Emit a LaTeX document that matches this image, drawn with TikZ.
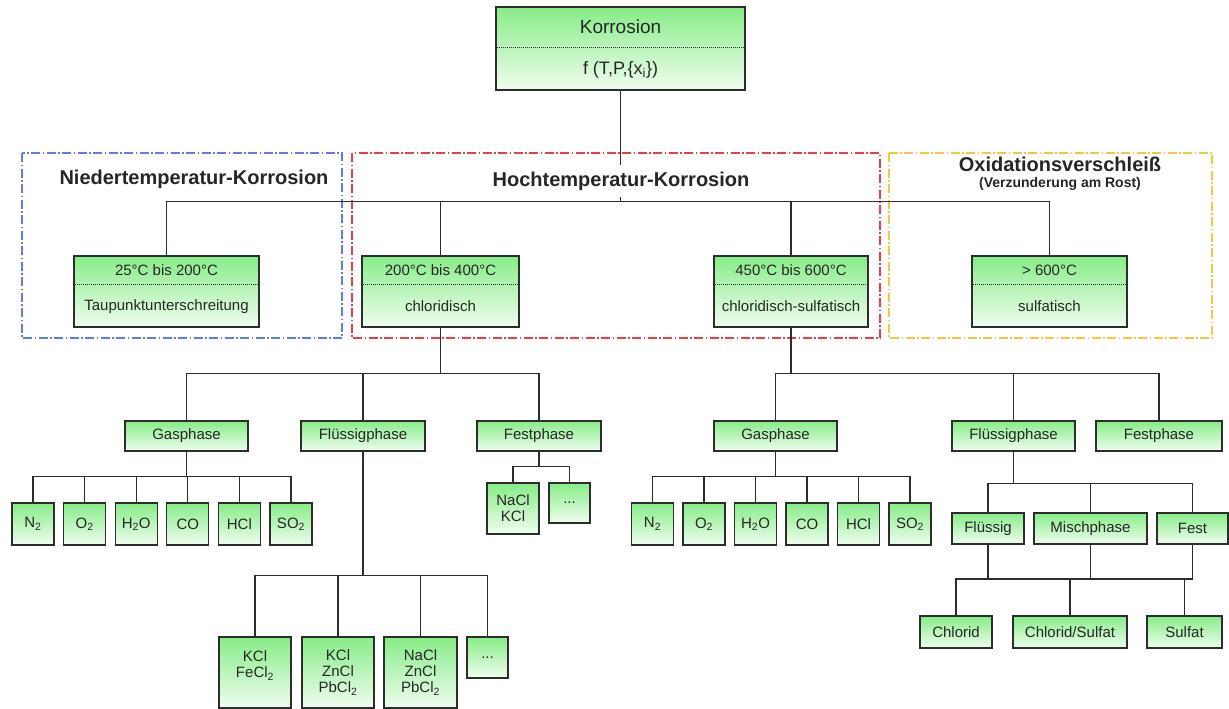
\documentclass[tikz,border=0pt]{standalone}
\usepackage{fontspec}
\setmainfont{Liberation Sans}
\usetikzlibrary{positioning}

\definecolor{boxtop}{RGB}{135,236,135}
\definecolor{boxbottom}{RGB}{240,253,240}
\definecolor{framenieder}{RGB}{95,125,225}
\definecolor{framehoch}{RGB}{232,62,72}
\definecolor{frameoxid}{RGB}{245,200,60}
\definecolor{linegray}{RGB}{45,45,45}

\begin{document}
\begin{tikzpicture}[x=1pt, y=-1pt, font=\fontsize{15}{16}\selectfont]

    \tikzset{%
    every box/.style={
        draw=linegray,
        line width=1.2pt,
        top color=boxtop,
        bottom color=boxbottom,
        inner sep=0pt,
        align=center,
        text=black!85
        },
    divider/.style={linegray, line width=1pt, densely dotted},
    conn/.style={linegray, line width=1.2pt},
    frame/.style={line width=1.4pt, dash pattern=on 9pt off 2.5pt on 1.5pt off 2.5pt},
    head/.style={font=\bfseries\fontsize{20}{22}\selectfont, text=black!85, inner sep=1pt},
    subhead/.style={font=\bfseries\fontsize{14}{16}\selectfont, text=black!85, inner sep=1pt},
    }

    \useasboundingbox (0,0) rectangle (1229,709);

    % Temperature range frames
    \draw [frame, draw=framenieder] (22,153) rectangle (342,338);
    \draw [frame, draw=framehoch] (352,153) rectangle (880,338);
    \draw [frame, draw=frameoxid] (889,153) rectangle (1212,338);

    % Root box
    \node [every box, minimum width=249, minimum height=83] (root) at (620.5,48.5) {};
    \draw [divider] ([yshift=-41pt]root.north west) -- ([yshift=-41pt]root.north east);
    \node [font=\fontsize{19}{21}\selectfont, text=black!85] (root-a) at ([yshift=-20.5pt]root.north) {Korrosion};
    \node [font=\fontsize{18}{20}\selectfont, text=black!85] (root-b) at ([yshift=21pt]root.south) {f (T,P,\{x\textsubscript{i}\})};

    % Temperature range boxes
    \foreach \n/\x/\w/\a/\b in {nt/166.5/185/25°C bis 200°C/Taupunktunterschreitung,
        ht1/440.5/157/200°C bis 400°C/chloridisch,
        ht2/791/154/450°C bis 600°C/chloridisch-sulfatisch,
        ox/1049.5/155/> 600°C/sulfatisch}
    {
    \node [every box, minimum width=\w, minimum height=71] (\n) at (\x,291.5) {};
    \draw [divider] ([yshift=-29pt]\n.north west) -- ([yshift=-29pt]\n.north east);
    \node [text=black!85] (\n-a) at ([yshift=-14.5pt]\n.north) {\a};
    \node [text=black!85] (\n-b) at ([yshift=21pt]\n.south) {\b};
    }

    % Phase boxes
    \node [every box, minimum width=123, minimum height=30] (gasL) at (186.5,436) {Gasphase};
    \node [every box, minimum width=124, minimum height=30] (fluL) at (363,436) {Flüssigphase};
    \node [every box, minimum width=124, minimum height=30] (festL) at (539,436) {Festphase};
    \node [every box, minimum width=123, minimum height=30] (gasR) at (775.5,436) {Gasphase};
    \node [every box, minimum width=123, minimum height=30] (fluR) at (1013.5,436) {Flüssigphase};
    \node [every box, minimum width=126, minimum height=30] (festR) at (1159,436) {Festphase};

    % Gas components
    \foreach \g [count=\i] in {N\textsubscript{2},O\textsubscript{2},H\textsubscript{2}O,CO,HCl,SO\textsubscript{2}}
    {
    \node [every box, minimum width=42, minimum height=42] (gasL-\i) at ({33+51.6*(\i-1)},524) {\g};
    \node [every box, minimum width=42, minimum height=42] (gasR-\i) at ({652.5+51.5*(\i-1)},524) {\g};
    }

    % Solid phase salts
    \node [every box, minimum width=52, minimum height=51] (salt-1) at (513,508.5) {NaCl\\KCl};
    \node [every box, minimum width=41, minimum height=40] (salt-2) at (569.5,503) {...};

    % Liquid phase salts
    \node [every box, minimum width=72, minimum height=71] (liq-1) at (255,672.5) {KCl\\FeCl\textsubscript{2}\\\mbox{}};
    \node [every box, minimum width=72, minimum height=71] (liq-2) at (338,672.5) {KCl\\ZnCl\\PbCl\textsubscript{2}};
    \node [every box, minimum width=73, minimum height=71] (liq-3) at (420.5,672.5) {NaCl\\ZnCl\\PbCl\textsubscript{2}};
    \node [every box, minimum width=41, minimum height=41] (liq-4) at (487.5,657.5) {...};

    % Deposit states
    \node [every box, minimum width=72, minimum height=31] (dep-1) at (988,528.5) {Flüssig};
    \node [every box, minimum width=113, minimum height=31] (dep-2) at (1090.5,528.5) {Mischphase};
    \node [every box, minimum width=71, minimum height=31] (dep-3) at (1192.5,528.5) {Fest};

    % Deposit types
    \node [every box, minimum width=72, minimum height=32] (typ-1) at (956,632) {Chlorid};
    \node [every box, minimum width=114, minimum height=32] (typ-2) at (1070,632) {Chlorid/Sulfat};
    \node [every box, minimum width=75, minimum height=32] (typ-3) at (1184.5,632) {Sulfat};
    \coordinate (mixbar) at (0,579);

    % Connectors
    \foreach \c in {nt,ht1,ht2,ox}
    \draw [conn] (root.south) -- ++(0,111) -| (\c.north);

    \foreach \c in {gasL,fluL,festL}
    \draw [conn] (ht1.south) -- ++(0,46) -| (\c.north);
    \foreach \c in {gasR,fluR,festR}
    \draw [conn] (ht2.south) -- ++(0,46) -| (\c.north);

    \foreach \i in {1,...,6}
    {
    \draw [conn] (gasL.south) -- ++(0,25) -| (gasL-\i.north);
    \draw [conn] (gasR.south) -- ++(0,25) -| (gasR-\i.north);
    }

    \foreach \i in {1,2}
    \draw [conn] (festL.south) -- ++(0,15) -| (salt-\i.north);

    \foreach \i in {1,...,4}
    \draw [conn] (fluL.south) -- ++(0,124) -| (liq-\i.north);

    \foreach \i in {1,2,3}
    \draw [conn] (fluR.south) -- ++(0,32) -| (dep-\i.north);

    \draw [conn] (typ-1.north) |- (dep-3.south |- mixbar);
    \foreach \i in {1,2,3}
    \draw [conn] (dep-\i.south) -- (dep-\i.south |- mixbar);
    \foreach \i in {2,3}
    \draw [conn] (typ-\i.north) -- (typ-\i.north |- mixbar);

    % Frame titles
    \node [head] (nt-title) at (194,179) {Niedertemperatur-Korrosion};
    \node [head, fill=white, inner ysep=7pt] (ht-title) at (621,181) {Hochtemperatur-Korrosion};
    \node [head] (ox-title) at (1060,164) {Oxidationsverschleiß};
    \node [subhead, below=4pt of ox-title] (ox-sub) {(Verzunderung am Rost)};

\end{tikzpicture}
\end{document}
